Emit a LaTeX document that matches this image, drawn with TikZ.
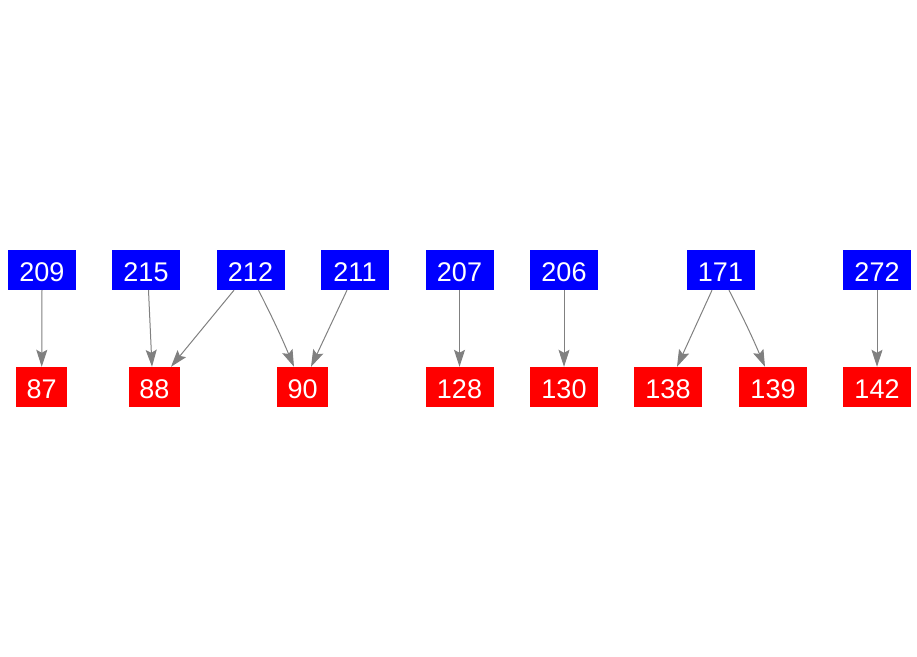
\documentclass[tikz,border=0pt]{standalone}
\usepackage{fontspec}
\setmainfont{Liberation Sans}
\usetikzlibrary{arrows.meta}
\begin{document}
\begin{tikzpicture}[x=1pt,y=1pt,
  box/.style={text=white, minimum height=40pt, inner sep=0pt, text height=27pt, text depth=3.6pt, font=\fontsize{27}{27}\selectfont},
  src/.style={box, fill={rgb,255:red,0;green,0;blue,255}, minimum width=68pt},
  dst/.style={box, fill={rgb,255:red,255;green,0;blue,0}},
  edge/.style={draw={rgb,255:red,128;green,128;blue,128}, line width=1pt, -{Stealth[length=17pt,width=11pt,inset=3pt]}}
]
\useasboundingbox (0,0) rectangle (917,656);
% sources
\node[src] (n209) at (42,386) {209};
\node[src] (n215) at (146,386) {215};
\node[src] (n212) at (250.5,386) {212};
\node[src] (n211) at (355,386) {211};
\node[src] (n207) at (459.5,386) {207};
\node[src] (n206) at (564,386) {206};
\node[src] (n171) at (720.5,386) {171};
\node[src] (n272) at (877,386) {272};
% targets
\node[dst, minimum width=51pt] (n87) at (41.7,269) {87};
\node[dst, minimum width=51pt] (n88) at (154.5,269) {88};
\node[dst, minimum width=51pt] (n90) at (302.7,269) {90};
\node[dst, minimum width=68pt] (n128) at (459.5,269) {128};
\node[dst, minimum width=68pt] (n130) at (564,269) {130};
\node[dst, minimum width=68pt] (n138) at (668,269) {138};
\node[dst, minimum width=68pt] (n139) at (773,269) {139};
\node[dst, minimum width=68pt] (n142) at (877,269) {142};
% edges
\draw[edge] (n209.south) -- (n87.north);
\draw[edge] ([xshift=2.5pt]n215.south) -- ([xshift=-2.5pt]n88.north);
\draw[edge] ([xshift=-16.5pt]n212.south) -- ([xshift=16.5pt]n88.north);
\draw[edge] ([xshift=8pt]n212.south) to[bend left=2] ([xshift=-8.7pt]n90.north);
\draw[edge] ([xshift=-8pt]n211.south) -- ([xshift=8.3pt]n90.north);
\draw[edge] (n207.south) -- (n128.north);
\draw[edge] (n206.south) -- (n130.north);
\draw[edge] ([xshift=-8.5pt]n171.south) -- ([xshift=9pt]n138.north);
\draw[edge] ([xshift=8.5pt]n171.south) to[bend left=2] ([xshift=-8pt]n139.north);
\draw[edge] (n272.south) -- (n142.north);
\end{tikzpicture}
\end{document}
